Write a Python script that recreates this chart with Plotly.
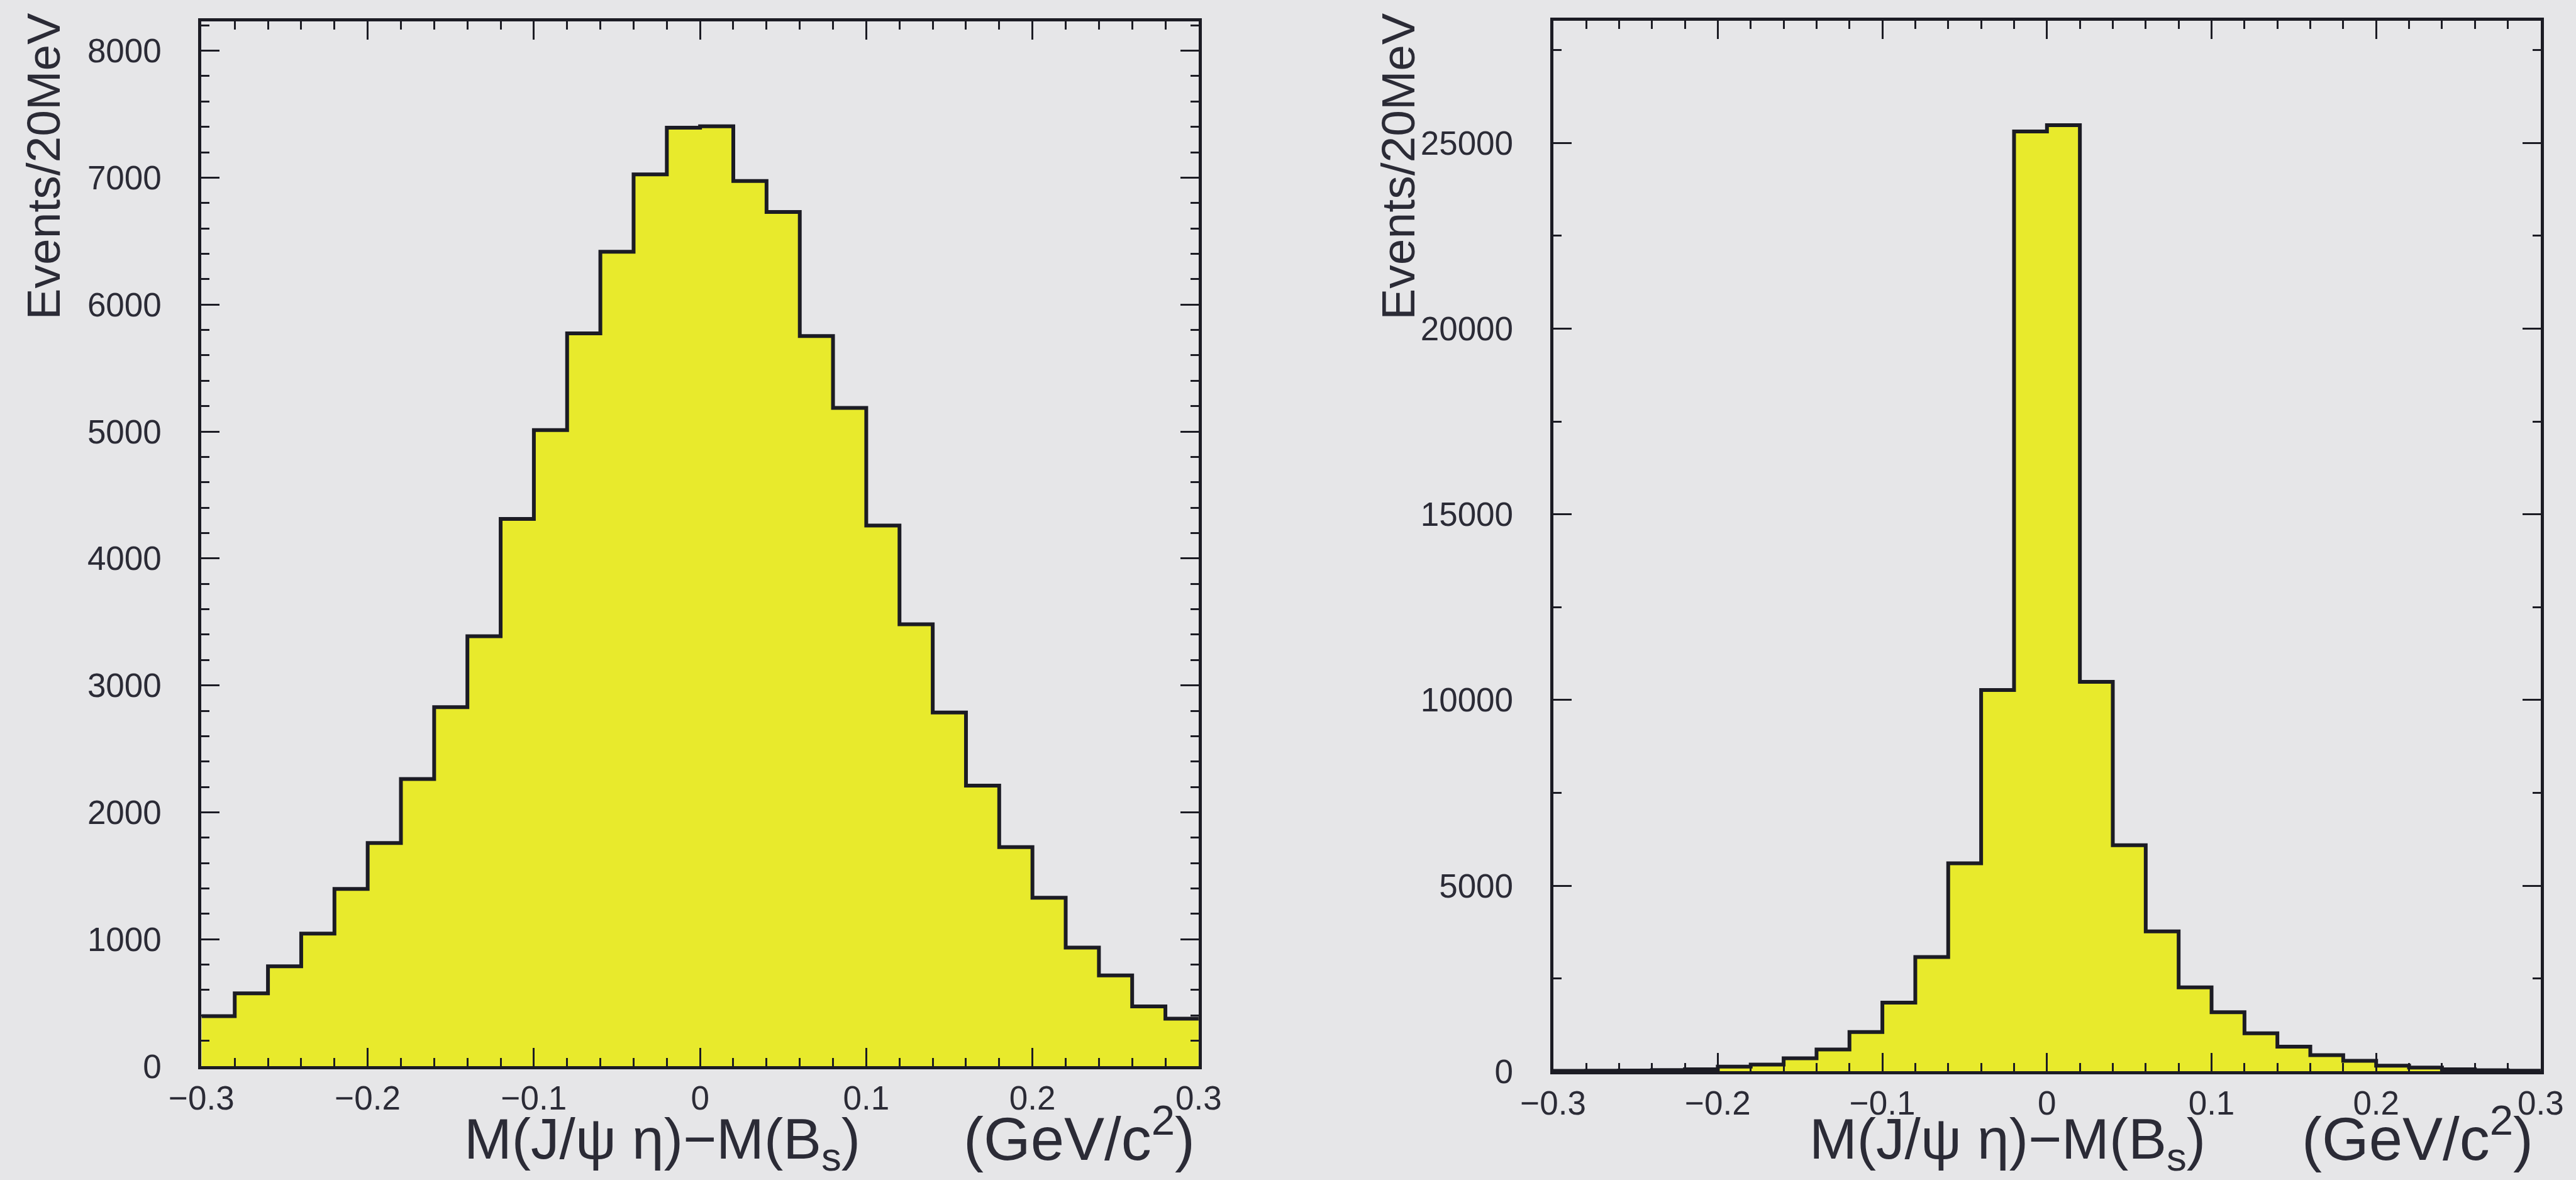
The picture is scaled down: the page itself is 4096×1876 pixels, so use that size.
import numpy as np
import plotly.graph_objects as go

# ---------------- data ----------------
bin_low = -0.30
bin_width = 0.02

left_counts = [394, 574, 787, 1045, 1397, 1758, 2262, 2828, 3387, 4311,
               5011, 5773, 6416, 7026, 7394, 7405, 6974, 6730, 5752, 5186,
               4259, 3482, 2787, 2211, 1726, 1327, 934, 715, 471, 375]

right_counts = [10, 15, 20, 35, 55, 125, 180, 350, 590, 1060,
                1850, 3080, 5600, 10270, 25310, 25480, 10490, 6090, 3770, 2260,
                1590, 1023, 665, 435, 281, 153, 102, 55, 30, 15]

x_tick_vals = [-0.3, -0.2, -0.1, 0.0, 0.1, 0.2, 0.3]
x_tick_text = ["\u22120.3", "\u22120.2", "\u22120.1", "0", "0.1", "0.2", "0.3"]

left_y_vals = [0, 1000, 2000, 3000, 4000, 5000, 6000, 7000, 8000]
left_y_text = ["0", "1000", "2000", "3000", "4000", "5000", "6000", "7000", "8000"]
right_y_vals = [0, 5000, 10000, 15000, 20000, 25000]
right_y_text = ["0", "5000", "10000", "15000", "20000", "25000"]

y_title = "Events/20MeV"
x_title_mass = "M(J/\u03c8\u00a0\u03b7)\u2212M(B<sub>s</sub>)"
x_title_unit = "(GeV/c<sup>2</sup>)"

# ---------------- style ----------------
W, H = 4096, 1876
BG = "#e6e6e8"
FILL = "#e8ea2c"
INK = "#1c1c24"
TXT = "#2b2b36"
TICK_FONT = dict(family="Liberation Sans, Arial, sans-serif", size=53, color=TXT)
MASS_FONT = dict(family="Liberation Sans, Arial, sans-serif", size=91, color=TXT)
UNIT_FONT = dict(family="Liberation Sans, Arial, sans-serif", size=96, color=TXT)
YTITLE_FONT = dict(family="Liberation Sans, Arial, sans-serif", size=75, color=TXT)


def step_xy(counts):
    edges = bin_low + bin_width * np.arange(len(counts) + 1)
    return list(np.round(edges, 4)), list(counts) + [counts[-1]]


fig = go.Figure()
for counts, xa, ya in [(left_counts, "x", "y"), (right_counts, "x2", "y2")]:
    xs, ys = step_xy(counts)
    fig.add_trace(go.Scatter(
        x=xs, y=ys, xaxis=xa, yaxis=ya, mode="lines", line_shape="hv",
        line=dict(color=INK, width=6), fill="tozeroy", fillcolor=FILL,
        showlegend=False, hoverinfo="skip"))

x_common = dict(
    range=[-0.3, 0.3], showgrid=False, zeroline=False,
    showline=True, linecolor=INK, linewidth=5, mirror="allticks",
    ticks="inside", ticklen=29, tickwidth=3, tickcolor=INK,
    tickvals=x_tick_vals, ticktext=x_tick_text, tickfont=TICK_FONT,
    ticklabelstandoff=0,
    minor=dict(ticks="inside", ticklen=13, tickwidth=3, tickcolor=INK,
               dtick=0.02, tick0=-0.3, showgrid=False),
)
y_common = dict(
    showgrid=False, zeroline=False,
    showline=True, linecolor=INK, linewidth=5, mirror="allticks",
    ticks="inside", ticklen=29, tickwidth=3, tickcolor=INK,
    tickfont=TICK_FONT, ticklabelstandoff=48,
)

fig.update_layout(
    width=W, height=H,
    margin=dict(l=0, r=0, t=0, b=0, autoexpand=False),
    paper_bgcolor=BG, plot_bgcolor=BG,
    xaxis=dict(domain=[0.07822, 0.46531], anchor="y", **x_common),
    xaxis2=dict(domain=[0.60295, 0.98631], anchor="y2", **x_common),
    yaxis=dict(domain=[0.09644, 0.98167], anchor="x", range=[0, 8229],
               tickvals=left_y_vals, ticktext=left_y_text,
               minor=dict(ticks="inside", ticklen=13, tickwidth=3, tickcolor=INK,
                          dtick=200, tick0=0, showgrid=False),
               **y_common),
    yaxis2=dict(domain=[0.09211, 0.98263], anchor="x2", range=[0, 28300],
                tickvals=right_y_vals, ticktext=right_y_text,
                minor=dict(ticks="inside", ticklen=13, tickwidth=3, tickcolor=INK,
                           dtick=2500, tick0=0, showgrid=False),
                **y_common),
)

annotations = []
for mass_right, unit_right in [(1370 / W, 1902 / W), (3509 / W, 4030 / W)]:
    annotations.append(dict(text=x_title_mass, xref="paper", yref="paper",
                            x=mass_right, y=0.0315, xanchor="right", yanchor="middle",
                            showarrow=False, font=MASS_FONT))
    annotations.append(dict(text=x_title_unit, xref="paper", yref="paper",
                            x=unit_right, y=0.0385, xanchor="right", yanchor="middle",
                            showarrow=False, font=UNIT_FONT))
for xc in [0.0168, 0.5427]:
    annotations.append(dict(text=y_title, xref="paper", yref="paper", x=xc, y=0.99,
                            xanchor="center", yanchor="top", textangle=-90,
                            showarrow=False, font=YTITLE_FONT))
fig.update_layout(annotations=annotations)

fig.write_html("out.html")
